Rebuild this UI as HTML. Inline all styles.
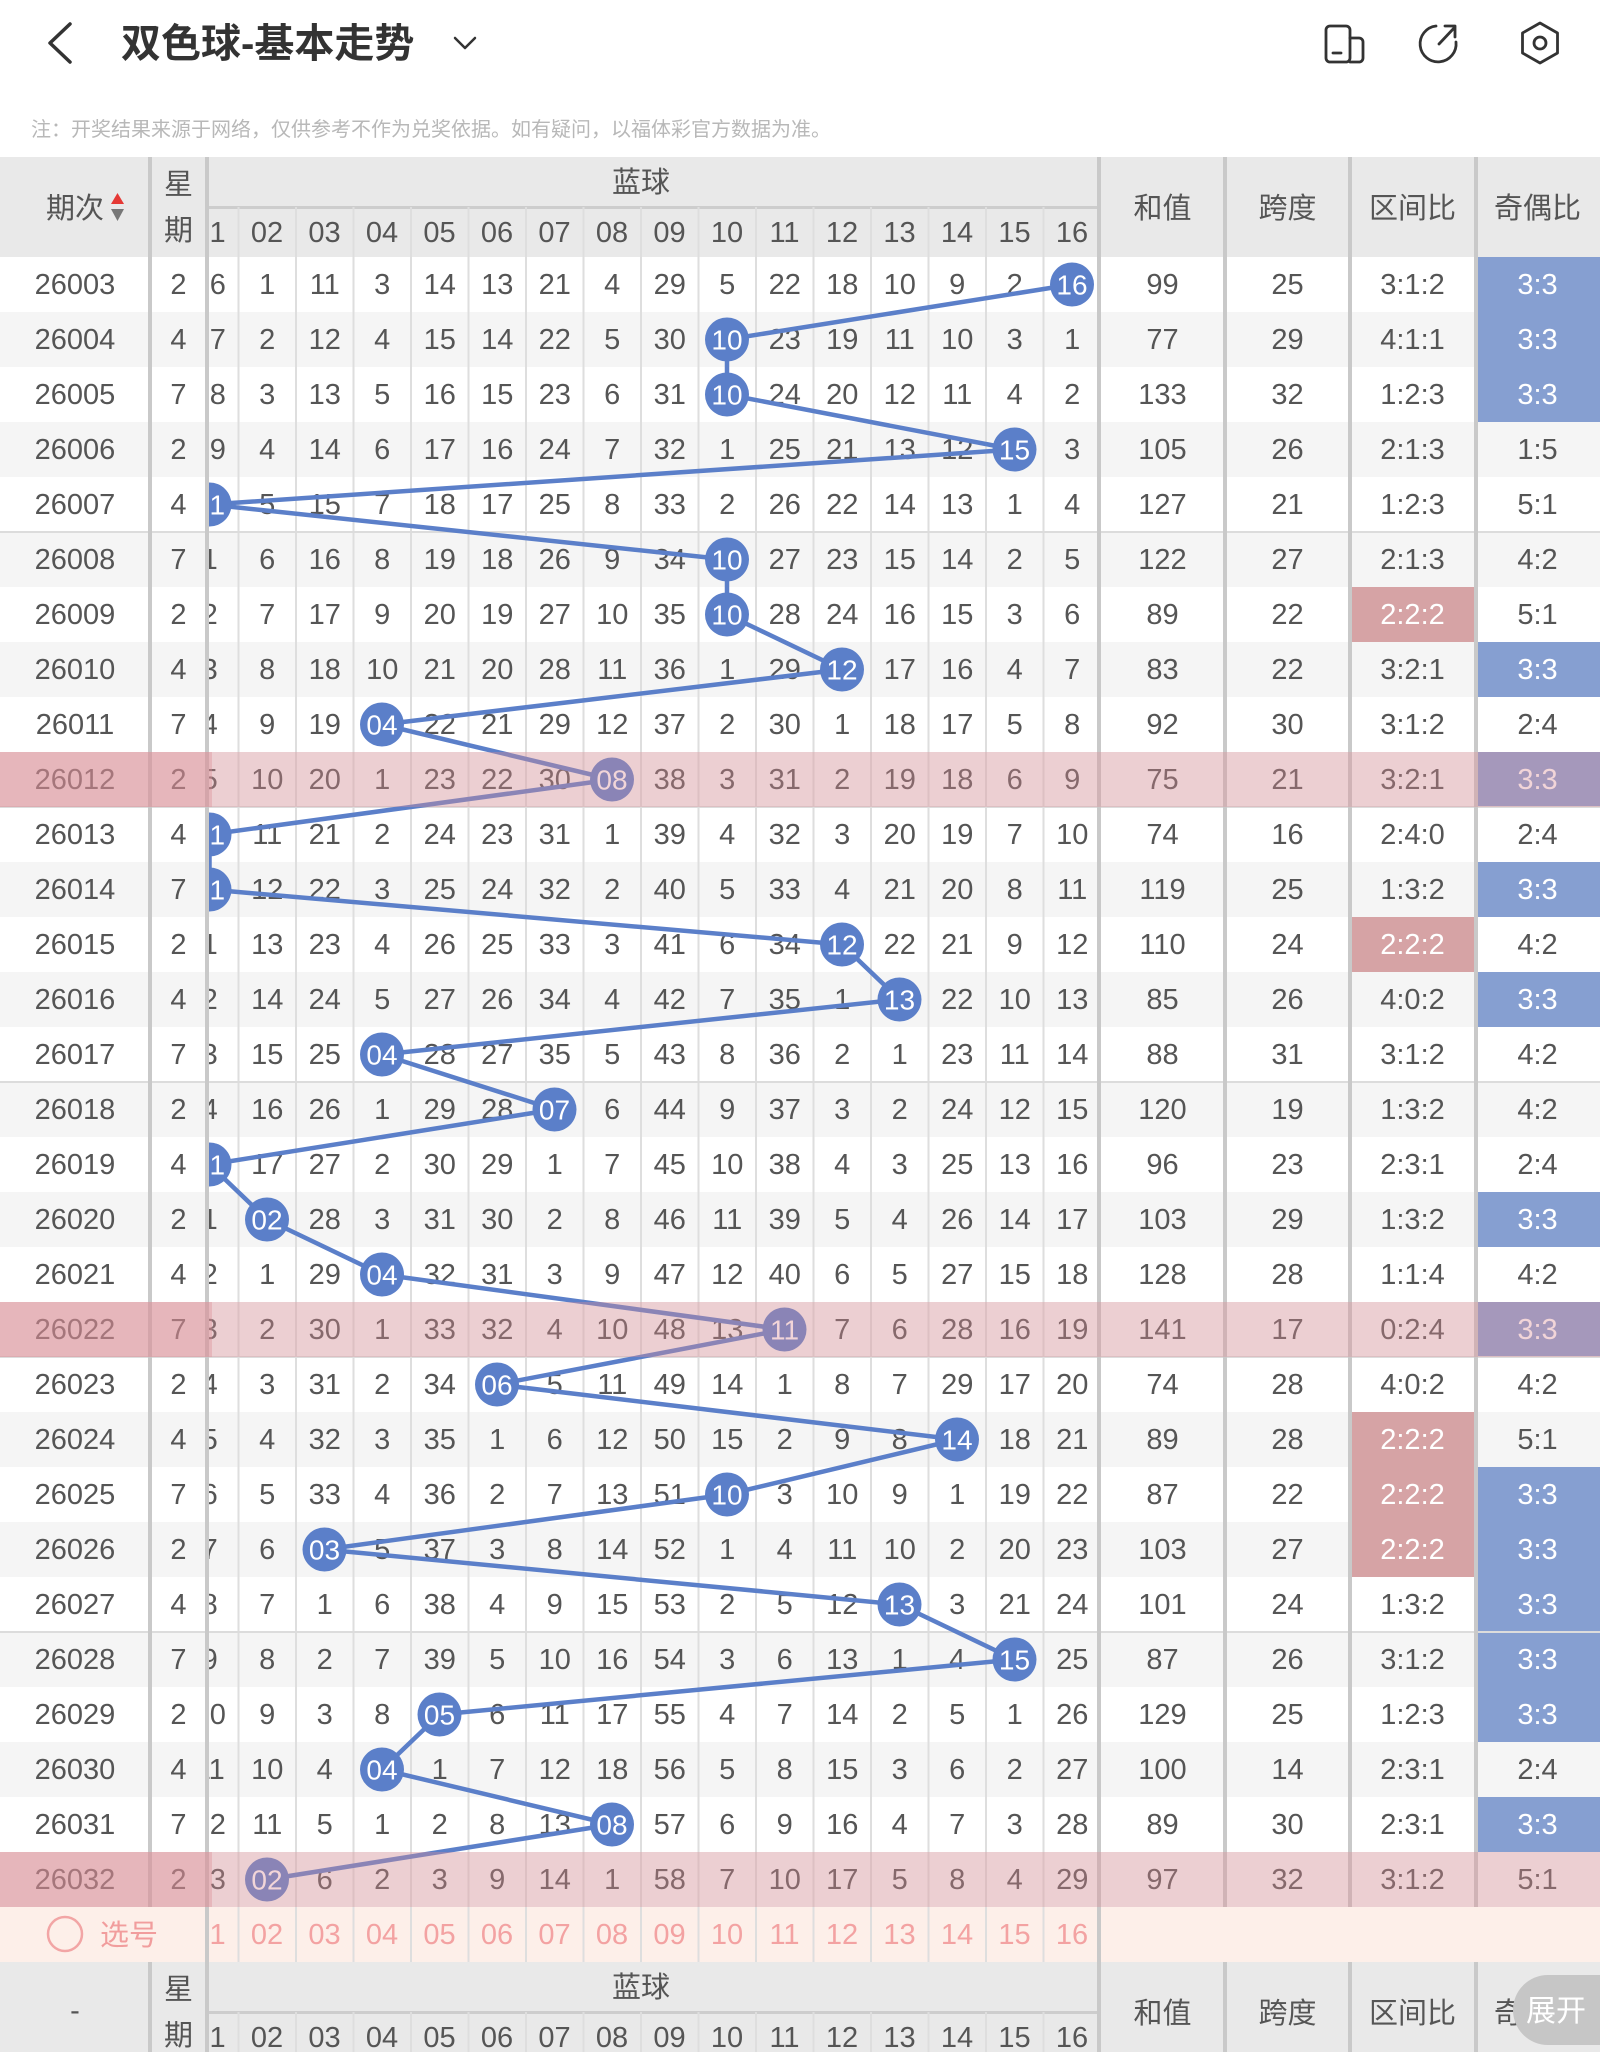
<!DOCTYPE html>
<html><head><meta charset="utf-8">
<style>
html,body{margin:0;padding:0;background:#fff}
body{width:1600px;height:2052px;position:relative;overflow:hidden;font-family:"Liberation Sans","Noto Sans CJK SC",sans-serif}
svg{position:absolute;left:0;top:0;display:block}
#t{position:absolute;left:0;top:257px;width:1600px}
.r{display:flex;height:55px;line-height:57px;font-size:29px;color:#555;text-align:center;font-family:"Liberation Sans",sans-serif}
.r.g{background:#f5f5f5}
.r b,.r em,.r i{font-weight:normal;font-style:normal}
.r b{width:150px;flex:none}
.r em{width:57px;flex:none}
.b{width:893px;flex:none;overflow:hidden}
.b div{display:flex;margin-left:-26px;width:920px}
.b i{width:57.5px;flex:none;white-space:nowrap}
.r p{margin:0;width:125px;flex:none}
.u{background:#869fd1;color:#fff}
.k{background:#d6a3a5;color:#fff}
.hl{position:absolute;left:0;width:1600px;height:55px;background:rgba(219,140,148,.37)}
.hl2{position:absolute;left:0;width:212px;height:55px;background:rgba(219,140,148,.37)}
</style></head><body>

<svg width="1600" height="2052" viewBox="0 0 1600 2052">
<defs><clipPath id="cp"><rect x="209" y="0" width="891" height="2052"/></clipPath></defs>
<g fill="none" stroke="#333" stroke-linecap="round" stroke-linejoin="round">
<polyline points="70,24 50,43 70,62" stroke-width="3.5"/>
<polyline points="455,38 465,48 475,38" stroke-width="2.5"/>
<rect x="1326" y="26" width="24" height="36" rx="4" stroke-width="2.8"/>
<path d="M1350 38h9a4 4 0 0 1 4 4v16a4 4 0 0 1-4 4h-9" stroke-width="2.8"/>
<path d="M1333 53h8" stroke-width="2.8"/>
<path d="M1436 26A18 18 0 1 0 1456 42" stroke-width="2.8"/>
<path d="M1439 44L1455 27M1445 26h10v11" stroke-width="2.8"/>
<polygon points="1540,23 1557.5,33 1557.5,53 1540,63 1522.5,53 1522.5,33" stroke-width="2.8"/>
<circle cx="1540" cy="43" r="6" stroke-width="2.8"/>
</g>
<text x="121" y="57" font-size="40" font-weight="bold" fill="#333">双色球-基本走势</text>
<text x="31" y="136" font-size="20" fill="#b8b8b8">注：开奖结果来源于网络，仅供参考不作为兑奖依据。如有疑问，以福体彩官方数据为准。</text>

<rect x="0" y="157" width="1600" height="100" fill="#e9e9e9"/>
<rect x="209" y="206" width="888" height="3" fill="#cdcdcd"/>
<g font-size="29" fill="#555" text-anchor="middle">
<text x="75" y="218">期次</text>
<text x="178.5" y="194">星</text>
<text x="178.5" y="240">期</text>
<text x="641" y="192">蓝球</text>
<text x="1162.5" y="218">和值</text>
<text x="1287.5" y="218">跨度</text>
<text x="1412.5" y="218">区间比</text>
<text x="1537.5" y="218">奇偶比</text>
<text y="242" clip-path="url(#cp)"><tspan x="209.5">01</tspan><tspan x="267">02</tspan><tspan x="324.5">03</tspan><tspan x="382">04</tspan><tspan x="439.5">05</tspan><tspan x="497">06</tspan><tspan x="554.5">07</tspan><tspan x="612">08</tspan><tspan x="669.5">09</tspan><tspan x="727">10</tspan><tspan x="784.5">11</tspan><tspan x="842">12</tspan><tspan x="899.5">13</tspan><tspan x="957">14</tspan><tspan x="1014.5">15</tspan><tspan x="1072">16</tspan></text>
</g>
<polygon points="117.5,193 111,204 124,204" fill="#e53935"/>
<polygon points="111,209 124,209 117.5,221" fill="#777"/>

<rect x="0" y="1907" width="1600" height="55" fill="#fdefe9"/>
<circle cx="65" cy="1934" r="17" fill="none" stroke="#f2a5a5" stroke-width="2.5"/>
<text x="100" y="1945" font-size="29" fill="#f19d9d">选号</text>
<text y="1944" font-size="29" fill="#f3a2a2" text-anchor="middle" clip-path="url(#cp)"><tspan x="209.5">01</tspan><tspan x="267">02</tspan><tspan x="324.5">03</tspan><tspan x="382">04</tspan><tspan x="439.5">05</tspan><tspan x="497">06</tspan><tspan x="554.5">07</tspan><tspan x="612">08</tspan><tspan x="669.5">09</tspan><tspan x="727">10</tspan><tspan x="784.5">11</tspan><tspan x="842">12</tspan><tspan x="899.5">13</tspan><tspan x="957">14</tspan><tspan x="1014.5">15</tspan><tspan x="1072">16</tspan></text>

<rect x="0" y="1962" width="1600" height="90" fill="#e9e9e9"/>
<rect x="209" y="2011" width="888" height="3" fill="#cdcdcd"/>
<g font-size="29" fill="#555" text-anchor="middle">
<text x="75" y="2020">-</text>
<text x="178.5" y="1999">星</text>
<text x="178.5" y="2045">期</text>
<text x="641" y="1997">蓝球</text>
<text x="1162.5" y="2023">和值</text>
<text x="1287.5" y="2023">跨度</text>
<text x="1412.5" y="2023">区间比</text>
<text x="1537.5" y="2023">奇偶比</text>
<text y="2047" clip-path="url(#cp)"><tspan x="209.5">01</tspan><tspan x="267">02</tspan><tspan x="324.5">03</tspan><tspan x="382">04</tspan><tspan x="439.5">05</tspan><tspan x="497">06</tspan><tspan x="554.5">07</tspan><tspan x="612">08</tspan><tspan x="669.5">09</tspan><tspan x="727">10</tspan><tspan x="784.5">11</tspan><tspan x="842">12</tspan><tspan x="899.5">13</tspan><tspan x="957">14</tspan><tspan x="1014.5">15</tspan><tspan x="1072">16</tspan></text>
</g>
</svg>

<div id="t">
<div class="r"><b>26003</b><em>2</em><div class="b"><div><i>16</i><i>1</i><i>11</i><i>3</i><i>14</i><i>13</i><i>21</i><i>4</i><i>29</i><i>5</i><i>22</i><i>18</i><i>10</i><i>9</i><i>2</i><i></i></div></div><p>99</p><p>25</p><p>3:1:2</p><p class="u">3:3</p></div>
<div class="r g"><b>26004</b><em>4</em><div class="b"><div><i>17</i><i>2</i><i>12</i><i>4</i><i>15</i><i>14</i><i>22</i><i>5</i><i>30</i><i></i><i>23</i><i>19</i><i>11</i><i>10</i><i>3</i><i>1</i></div></div><p>77</p><p>29</p><p>4:1:1</p><p class="u">3:3</p></div>
<div class="r"><b>26005</b><em>7</em><div class="b"><div><i>18</i><i>3</i><i>13</i><i>5</i><i>16</i><i>15</i><i>23</i><i>6</i><i>31</i><i></i><i>24</i><i>20</i><i>12</i><i>11</i><i>4</i><i>2</i></div></div><p>133</p><p>32</p><p>1:2:3</p><p class="u">3:3</p></div>
<div class="r g"><b>26006</b><em>2</em><div class="b"><div><i>19</i><i>4</i><i>14</i><i>6</i><i>17</i><i>16</i><i>24</i><i>7</i><i>32</i><i>1</i><i>25</i><i>21</i><i>13</i><i>12</i><i></i><i>3</i></div></div><p>105</p><p>26</p><p>2:1:3</p><p>1:5</p></div>
<div class="r"><b>26007</b><em>4</em><div class="b"><div><i></i><i>5</i><i>15</i><i>7</i><i>18</i><i>17</i><i>25</i><i>8</i><i>33</i><i>2</i><i>26</i><i>22</i><i>14</i><i>13</i><i>1</i><i>4</i></div></div><p>127</p><p>21</p><p>1:2:3</p><p>5:1</p></div>
<div class="r g"><b>26008</b><em>7</em><div class="b"><div><i>1</i><i>6</i><i>16</i><i>8</i><i>19</i><i>18</i><i>26</i><i>9</i><i>34</i><i></i><i>27</i><i>23</i><i>15</i><i>14</i><i>2</i><i>5</i></div></div><p>122</p><p>27</p><p>2:1:3</p><p>4:2</p></div>
<div class="r"><b>26009</b><em>2</em><div class="b"><div><i>2</i><i>7</i><i>17</i><i>9</i><i>20</i><i>19</i><i>27</i><i>10</i><i>35</i><i></i><i>28</i><i>24</i><i>16</i><i>15</i><i>3</i><i>6</i></div></div><p>89</p><p>22</p><p class="k">2:2:2</p><p>5:1</p></div>
<div class="r g"><b>26010</b><em>4</em><div class="b"><div><i>3</i><i>8</i><i>18</i><i>10</i><i>21</i><i>20</i><i>28</i><i>11</i><i>36</i><i>1</i><i>29</i><i></i><i>17</i><i>16</i><i>4</i><i>7</i></div></div><p>83</p><p>22</p><p>3:2:1</p><p class="u">3:3</p></div>
<div class="r"><b>26011</b><em>7</em><div class="b"><div><i>4</i><i>9</i><i>19</i><i></i><i>22</i><i>21</i><i>29</i><i>12</i><i>37</i><i>2</i><i>30</i><i>1</i><i>18</i><i>17</i><i>5</i><i>8</i></div></div><p>92</p><p>30</p><p>3:1:2</p><p>2:4</p></div>
<div class="r g"><b>26012</b><em>2</em><div class="b"><div><i>5</i><i>10</i><i>20</i><i>1</i><i>23</i><i>22</i><i>30</i><i></i><i>38</i><i>3</i><i>31</i><i>2</i><i>19</i><i>18</i><i>6</i><i>9</i></div></div><p>75</p><p>21</p><p>3:2:1</p><p class="u">3:3</p></div>
<div class="r"><b>26013</b><em>4</em><div class="b"><div><i></i><i>11</i><i>21</i><i>2</i><i>24</i><i>23</i><i>31</i><i>1</i><i>39</i><i>4</i><i>32</i><i>3</i><i>20</i><i>19</i><i>7</i><i>10</i></div></div><p>74</p><p>16</p><p>2:4:0</p><p>2:4</p></div>
<div class="r g"><b>26014</b><em>7</em><div class="b"><div><i></i><i>12</i><i>22</i><i>3</i><i>25</i><i>24</i><i>32</i><i>2</i><i>40</i><i>5</i><i>33</i><i>4</i><i>21</i><i>20</i><i>8</i><i>11</i></div></div><p>119</p><p>25</p><p>1:3:2</p><p class="u">3:3</p></div>
<div class="r"><b>26015</b><em>2</em><div class="b"><div><i>1</i><i>13</i><i>23</i><i>4</i><i>26</i><i>25</i><i>33</i><i>3</i><i>41</i><i>6</i><i>34</i><i></i><i>22</i><i>21</i><i>9</i><i>12</i></div></div><p>110</p><p>24</p><p class="k">2:2:2</p><p>4:2</p></div>
<div class="r g"><b>26016</b><em>4</em><div class="b"><div><i>2</i><i>14</i><i>24</i><i>5</i><i>27</i><i>26</i><i>34</i><i>4</i><i>42</i><i>7</i><i>35</i><i>1</i><i></i><i>22</i><i>10</i><i>13</i></div></div><p>85</p><p>26</p><p>4:0:2</p><p class="u">3:3</p></div>
<div class="r"><b>26017</b><em>7</em><div class="b"><div><i>3</i><i>15</i><i>25</i><i></i><i>28</i><i>27</i><i>35</i><i>5</i><i>43</i><i>8</i><i>36</i><i>2</i><i>1</i><i>23</i><i>11</i><i>14</i></div></div><p>88</p><p>31</p><p>3:1:2</p><p>4:2</p></div>
<div class="r g"><b>26018</b><em>2</em><div class="b"><div><i>4</i><i>16</i><i>26</i><i>1</i><i>29</i><i>28</i><i></i><i>6</i><i>44</i><i>9</i><i>37</i><i>3</i><i>2</i><i>24</i><i>12</i><i>15</i></div></div><p>120</p><p>19</p><p>1:3:2</p><p>4:2</p></div>
<div class="r"><b>26019</b><em>4</em><div class="b"><div><i></i><i>17</i><i>27</i><i>2</i><i>30</i><i>29</i><i>1</i><i>7</i><i>45</i><i>10</i><i>38</i><i>4</i><i>3</i><i>25</i><i>13</i><i>16</i></div></div><p>96</p><p>23</p><p>2:3:1</p><p>2:4</p></div>
<div class="r g"><b>26020</b><em>2</em><div class="b"><div><i>1</i><i></i><i>28</i><i>3</i><i>31</i><i>30</i><i>2</i><i>8</i><i>46</i><i>11</i><i>39</i><i>5</i><i>4</i><i>26</i><i>14</i><i>17</i></div></div><p>103</p><p>29</p><p>1:3:2</p><p class="u">3:3</p></div>
<div class="r"><b>26021</b><em>4</em><div class="b"><div><i>2</i><i>1</i><i>29</i><i></i><i>32</i><i>31</i><i>3</i><i>9</i><i>47</i><i>12</i><i>40</i><i>6</i><i>5</i><i>27</i><i>15</i><i>18</i></div></div><p>128</p><p>28</p><p>1:1:4</p><p>4:2</p></div>
<div class="r g"><b>26022</b><em>7</em><div class="b"><div><i>3</i><i>2</i><i>30</i><i>1</i><i>33</i><i>32</i><i>4</i><i>10</i><i>48</i><i>13</i><i></i><i>7</i><i>6</i><i>28</i><i>16</i><i>19</i></div></div><p>141</p><p>17</p><p>0:2:4</p><p class="u">3:3</p></div>
<div class="r"><b>26023</b><em>2</em><div class="b"><div><i>4</i><i>3</i><i>31</i><i>2</i><i>34</i><i></i><i>5</i><i>11</i><i>49</i><i>14</i><i>1</i><i>8</i><i>7</i><i>29</i><i>17</i><i>20</i></div></div><p>74</p><p>28</p><p>4:0:2</p><p>4:2</p></div>
<div class="r g"><b>26024</b><em>4</em><div class="b"><div><i>5</i><i>4</i><i>32</i><i>3</i><i>35</i><i>1</i><i>6</i><i>12</i><i>50</i><i>15</i><i>2</i><i>9</i><i>8</i><i></i><i>18</i><i>21</i></div></div><p>89</p><p>28</p><p class="k">2:2:2</p><p>5:1</p></div>
<div class="r"><b>26025</b><em>7</em><div class="b"><div><i>6</i><i>5</i><i>33</i><i>4</i><i>36</i><i>2</i><i>7</i><i>13</i><i>51</i><i></i><i>3</i><i>10</i><i>9</i><i>1</i><i>19</i><i>22</i></div></div><p>87</p><p>22</p><p class="k">2:2:2</p><p class="u">3:3</p></div>
<div class="r g"><b>26026</b><em>2</em><div class="b"><div><i>7</i><i>6</i><i></i><i>5</i><i>37</i><i>3</i><i>8</i><i>14</i><i>52</i><i>1</i><i>4</i><i>11</i><i>10</i><i>2</i><i>20</i><i>23</i></div></div><p>103</p><p>27</p><p class="k">2:2:2</p><p class="u">3:3</p></div>
<div class="r"><b>26027</b><em>4</em><div class="b"><div><i>8</i><i>7</i><i>1</i><i>6</i><i>38</i><i>4</i><i>9</i><i>15</i><i>53</i><i>2</i><i>5</i><i>12</i><i></i><i>3</i><i>21</i><i>24</i></div></div><p>101</p><p>24</p><p>1:3:2</p><p class="u">3:3</p></div>
<div class="r g"><b>26028</b><em>7</em><div class="b"><div><i>9</i><i>8</i><i>2</i><i>7</i><i>39</i><i>5</i><i>10</i><i>16</i><i>54</i><i>3</i><i>6</i><i>13</i><i>1</i><i>4</i><i></i><i>25</i></div></div><p>87</p><p>26</p><p>3:1:2</p><p class="u">3:3</p></div>
<div class="r"><b>26029</b><em>2</em><div class="b"><div><i>10</i><i>9</i><i>3</i><i>8</i><i></i><i>6</i><i>11</i><i>17</i><i>55</i><i>4</i><i>7</i><i>14</i><i>2</i><i>5</i><i>1</i><i>26</i></div></div><p>129</p><p>25</p><p>1:2:3</p><p class="u">3:3</p></div>
<div class="r g"><b>26030</b><em>4</em><div class="b"><div><i>11</i><i>10</i><i>4</i><i></i><i>1</i><i>7</i><i>12</i><i>18</i><i>56</i><i>5</i><i>8</i><i>15</i><i>3</i><i>6</i><i>2</i><i>27</i></div></div><p>100</p><p>14</p><p>2:3:1</p><p>2:4</p></div>
<div class="r"><b>26031</b><em>7</em><div class="b"><div><i>12</i><i>11</i><i>5</i><i>1</i><i>2</i><i>8</i><i>13</i><i></i><i>57</i><i>6</i><i>9</i><i>16</i><i>4</i><i>7</i><i>3</i><i>28</i></div></div><p>89</p><p>30</p><p>2:3:1</p><p class="u">3:3</p></div>
<div class="r g"><b>26032</b><em>2</em><div class="b"><div><i>13</i><i></i><i>6</i><i>2</i><i>3</i><i>9</i><i>14</i><i>1</i><i>58</i><i>7</i><i>10</i><i>17</i><i>5</i><i>8</i><i>4</i><i>29</i></div></div><p>97</p><p>32</p><p>3:1:2</p><p>5:1</p></div>
</div>

<svg width="1600" height="2052" viewBox="0 0 1600 2052">
<path fill="none" stroke="#dedede" stroke-width="2" d="M238.5 207V1962M296 207V1962M353.5 207V1962M411 207V1962M468.5 207V1962M526 207V1962M583.5 207V1962M641 207V1962M698.5 207V1962M756 207V1962M813.5 207V1962M871 207V1962M928.5 207V1962M986 207V1962M1043.5 207V1962M238.5 2012V2052M296 2012V2052M353.5 2012V2052M411 2012V2052M468.5 2012V2052M526 2012V2052M583.5 2012V2052M641 2012V2052M698.5 2012V2052M756 2012V2052M813.5 2012V2052M871 2012V2052M928.5 2012V2052M986 2012V2052M1043.5 2012V2052"/>
<path fill="none" stroke="#dcdcdc" stroke-width="2" d="M0 532H1600M0 807H1600M0 1082H1600M0 1357H1600M0 1632H1600"/>
<path fill="none" stroke="#c9c9c9" stroke-width="4" d="M150 157V1907M150 1962V2052M207 157V2052M1099 157V2052M1225 157V1907M1225 1962V2052M1350 157V1907M1350 1962V2052M1476 157V1907M1476 1962V2052"/>
<rect x="1513" y="1975" width="120" height="70" rx="35" fill="#c6c6c6"/>
<text x="1556" y="2021" font-size="30" fill="#fff" text-anchor="middle">展开</text>
</svg>

<svg style="left:209px" width="891" height="2052" viewBox="209 0 891 2052">
<polyline fill="none" stroke="#5b7fc9" stroke-width="4.5" stroke-linejoin="round" points="1072,284.5 727,339.5 727,394.5 1014.5,449.5 209.5,504.5 727,559.5 727,614.5 842,669.5 382,724.5 612,779.5 209.5,834.5 209.5,889.5 842,944.5 899.5,999.5 382,1054.5 554.5,1109.5 209.5,1164.5 267,1219.5 382,1274.5 784.5,1329.5 497,1384.5 957,1439.5 727,1494.5 324.5,1549.5 899.5,1604.5 1014.5,1659.5 439.5,1714.5 382,1769.5 612,1824.5 267,1879.5"/>
<g fill="#5b7fc9">
<circle cx="1072" cy="284.5" r="22"/><circle cx="727" cy="339.5" r="22"/><circle cx="727" cy="394.5" r="22"/><circle cx="1014.5" cy="449.5" r="22"/><circle cx="209.5" cy="504.5" r="22"/><circle cx="727" cy="559.5" r="22"/><circle cx="727" cy="614.5" r="22"/><circle cx="842" cy="669.5" r="22"/><circle cx="382" cy="724.5" r="22"/><circle cx="612" cy="779.5" r="22"/><circle cx="209.5" cy="834.5" r="22"/><circle cx="209.5" cy="889.5" r="22"/><circle cx="842" cy="944.5" r="22"/><circle cx="899.5" cy="999.5" r="22"/><circle cx="382" cy="1054.5" r="22"/><circle cx="554.5" cy="1109.5" r="22"/><circle cx="209.5" cy="1164.5" r="22"/><circle cx="267" cy="1219.5" r="22"/><circle cx="382" cy="1274.5" r="22"/><circle cx="784.5" cy="1329.5" r="22"/><circle cx="497" cy="1384.5" r="22"/><circle cx="957" cy="1439.5" r="22"/><circle cx="727" cy="1494.5" r="22"/><circle cx="324.5" cy="1549.5" r="22"/><circle cx="899.5" cy="1604.5" r="22"/><circle cx="1014.5" cy="1659.5" r="22"/><circle cx="439.5" cy="1714.5" r="22"/><circle cx="382" cy="1769.5" r="22"/><circle cx="612" cy="1824.5" r="22"/><circle cx="267" cy="1879.5" r="22"/>
</g>
<g fill="#fff" font-size="28" text-anchor="middle">
<text x="1072" y="294.5">16</text><text x="727" y="349.5">10</text><text x="727" y="404.5">10</text><text x="1014.5" y="459.5">15</text><text x="209.5" y="514.5">01</text><text x="727" y="569.5">10</text><text x="727" y="624.5">10</text><text x="842" y="679.5">12</text><text x="382" y="734.5">04</text><text x="612" y="789.5">08</text><text x="209.5" y="844.5">01</text><text x="209.5" y="899.5">01</text><text x="842" y="954.5">12</text><text x="899.5" y="1009.5">13</text><text x="382" y="1064.5">04</text><text x="554.5" y="1119.5">07</text><text x="209.5" y="1174.5">01</text><text x="267" y="1229.5">02</text><text x="382" y="1284.5">04</text><text x="784.5" y="1339.5">11</text><text x="497" y="1394.5">06</text><text x="957" y="1449.5">14</text><text x="727" y="1504.5">10</text><text x="324.5" y="1559.5">03</text><text x="899.5" y="1614.5">13</text><text x="1014.5" y="1669.5">15</text><text x="439.5" y="1724.5">05</text><text x="382" y="1779.5">04</text><text x="612" y="1834.5">08</text><text x="267" y="1889.5">02</text>
</g>
</svg>

<div class="hl" style="top:752px"></div><div class="hl2" style="top:752px"></div>
<div class="hl" style="top:1302px"></div><div class="hl2" style="top:1302px"></div>
<div class="hl" style="top:1852px"></div><div class="hl2" style="top:1852px"></div>

</body></html>
